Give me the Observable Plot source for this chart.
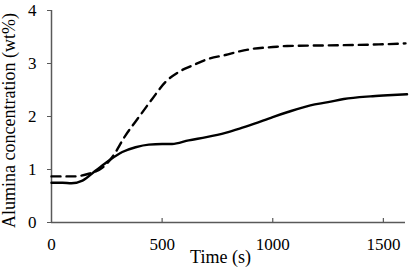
<!DOCTYPE html>
<html>
<head>
<meta charset="utf-8">
<script src="https://cdn.jsdelivr.net/npm/d3@7"></script>
<script src="https://cdn.jsdelivr.net/npm/@observablehq/plot@0.6"></script>
<style>
  html, body { margin: 0; padding: 0; background: #fff; }
  #chart svg { display: block; }
  #chart svg text { font-family: "Liberation Serif", "DejaVu Serif", serif !important; }
</style>
</head>
<body>
<div id="chart"></div>
<script>
const time = [0, 50, 90, 140, 200, 260, 320, 380, 440, 500, 545, 620, 700, 786, 850, 914, 1000, 1065, 1170, 1250, 1321, 1441, 1520, 1607];
const solid = [0.75, 0.75, 0.74, 0.79, 0.98, 1.17, 1.33, 1.42, 1.47, 1.48, 1.48, 1.55, 1.61, 1.69, 1.77, 1.86, 1.99, 2.08, 2.21, 2.27, 2.33, 2.38, 2.40, 2.42];
const timeDashed = [0, 50, 100, 169, 229, 274, 334, 395, 455, 515, 575, 636, 711, 786, 850, 914, 1000, 1065, 1215, 1366, 1480, 1600];
const dashed = [0.87, 0.87, 0.87, 0.92, 1.03, 1.23, 1.64, 1.99, 2.33, 2.65, 2.84, 2.96, 3.09, 3.16, 3.23, 3.28, 3.31, 3.33, 3.34, 3.35, 3.36, 3.38];
const xTicks = [0, 500, 1000, 1500];
const yTicks = [0, 1, 2, 3, 4];
const xLabel = "Time (s)";
const yLabel = "Alumina concentration (wt%)";

const solidData = time.map((t, i) => ({t, v: solid[i]}));
const dashedData = timeDashed.map((t, i) => ({t, v: dashed[i]}));

const axisColor = "#595959";
const font = "Liberation Serif";

const chart = Plot.plot({
  width: 410,
  height: 277,
  marginLeft: 51,
  marginRight: 5,
  marginTop: 10,
  marginBottom: 55,
  style: {fontFamily: font, fontSize: "17px", color: "#000", background: "#fff", overflow: "visible"},
  x: {domain: [0, 1600]},
  y: {domain: [0, 4]},
  marks: [
    Plot.axisY(yTicks, {tickSize: 4, tickPadding: 11, stroke: axisColor, fill: "#000", label: null, fontSize: 17, fontFamily: font, tickFormat: d => String(d)}),
    Plot.axisX(xTicks, {tickSize: 0, tickPadding: 15, fill: "#000", label: null, fontSize: 17, fontFamily: font, tickFormat: d => String(d)}),
    Plot.ruleX(xTicks.filter(d => d > 0), {x: d => d, y1: 0, y2: 0.075, stroke: axisColor, strokeWidth: 1.2}),
    Plot.ruleY([0], {stroke: axisColor, strokeWidth: 1.5}),
    Plot.ruleX([0], {stroke: axisColor, strokeWidth: 1.5}),
    Plot.line(solidData, {x: "t", y: "v", stroke: "#000", strokeWidth: 2.4, curve: "monotone-x"}),
    Plot.line(dashedData, {x: "t", y: "v", stroke: "#000", strokeWidth: 2.4, strokeDasharray: "9,6", curve: "monotone-x"}),
    Plot.text([xLabel], {frameAnchor: "bottom", textAnchor: "middle", dx: -8, dy: 40, text: d => d, fill: "#000", fontSize: 18, fontFamily: font}),
    Plot.text([yLabel], {frameAnchor: "left", textAnchor: "middle", rotate: -90, dx: -42, dy: 4, text: d => d, fill: "#000", fontSize: 18, fontFamily: font})
  ]
});
document.getElementById("chart").appendChild(chart);
</script>
</body>
</html>
